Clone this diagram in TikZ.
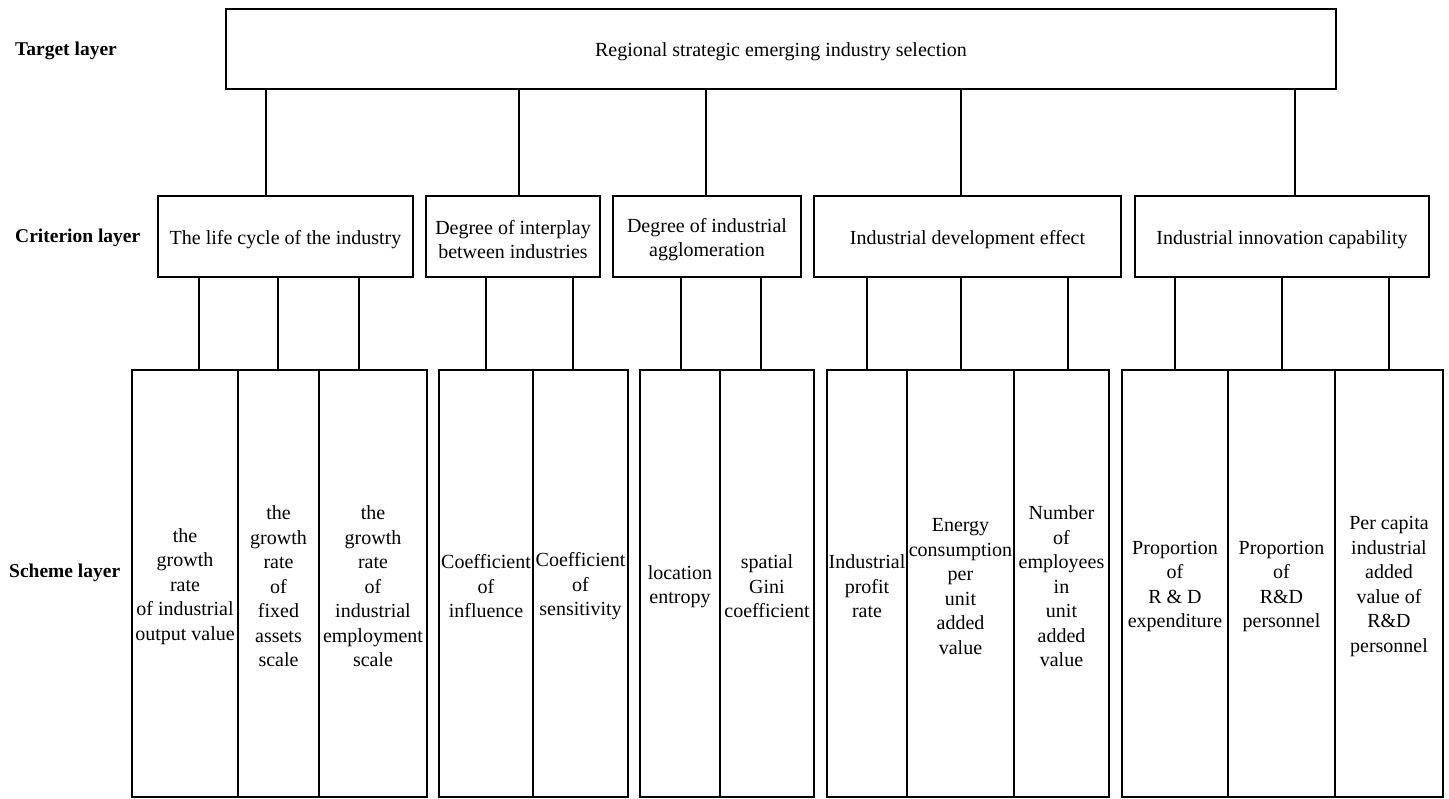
\documentclass[tikz,border=0pt]{standalone}
\usepackage{fontspec}
\setmainfont{Liberation Serif}
\begin{document}
\begin{tikzpicture}[x=1pt,y=-1pt,
  box/.style={draw=black,line width=2.6pt,inner sep=0pt},
  boxtext/.style={inner sep=0pt,align=center,yshift=-3pt,
    font=\fontsize{20}{24.5}\selectfont},
  conn/.style={draw=black,line width=2.4pt},
  layerlbl/.style={anchor=west,inner sep=0pt,font=\fontsize{19.5}{23}\selectfont\bfseries}]
\useasboundingbox (0,0) rectangle (1449,799);
\newcommand{\bx}[6]{\node[box,minimum width={(#4-#2)*1pt},minimum height={(#5-#3)*1pt},
  label={[boxtext]center:{#6}}] (#1) at ({(#2+#4)/2},{(#3+#5)/2}) {};}
% layer labels
\node[layerlbl] (lt) at (15,51) {Target layer};
\node[layerlbl] (lc) at (15,238) {Criterion layer};
\node[layerlbl] (ls) at (9,573) {Scheme layer};
% target
\bx{top}{226}{9}{1336}{89}{Regional strategic emerging industry selection}
% criteria
\bx{c1}{158}{196}{413}{277}{The life cycle of the industry}
\bx{c2}{426}{196}{600}{277}{Degree of interplay\\between industries}
\bx{c3}{613}{196}{801}{277}{Degree of industrial\\agglomeration}
\bx{c4}{814}{196}{1121}{277}{Industrial development effect}
\bx{c5}{1135}{196}{1429}{277}{Industrial innovation capability}
% schemes
\bx{s1}{132}{370}{238}{797}{the\\growth\\rate\\of industrial\\output value}
\bx{s2}{238}{370}{319}{797}{the\\growth\\rate\\of\\fixed\\assets\\scale}
\bx{s3}{319}{370}{427}{797}{the\\growth\\rate\\of\\industrial\\employment\\scale}
\bx{s4}{439}{370}{533}{797}{Coefficient\\of\\influence}
\bx{s5}{533}{370}{628}{797}{Coefficient\\of\\sensitivity}
\bx{s6}{640}{370}{720}{797}{location\\entropy}
\bx{s7}{720}{370}{814}{797}{spatial\\Gini\\coefficient}
\bx{s8}{827}{370}{907}{797}{Industrial\\profit\\rate}
\bx{s9}{907}{370}{1014}{797}{Energy\\consumption\\per\\unit\\added\\value}
\bx{s10}{1014}{370}{1109}{797}{Number\\of\\employees\\in\\unit\\added\\value}
\bx{s11}{1122}{370}{1228}{797}{Proportion\\of\\R \& D\\expenditure}
\bx{s12}{1228}{370}{1335}{797}{Proportion\\of\\R\&D\\personnel}
\bx{s13}{1335}{370}{1443}{797}{Per capita\\industrial\\added\\value of\\R\&D\\personnel}
% connectors target -> criteria
\draw[conn] (top.south -| 266,0) -- (c1.north -| 266,0);
\draw[conn] (top.south -| 519,0) -- (c2.north -| 519,0);
\draw[conn] (top.south -| 706,0) -- (c3.north -| 706,0);
\draw[conn] (top.south -| 961,0) -- (c4.north -| 961,0);
\draw[conn] (top.south -| 1295,0) -- (c5.north -| 1295,0);
% connectors criteria -> schemes
\draw[conn] (c1.south -| 199,0) -- (s1.north -| 199,0);
\draw[conn] (c1.south -| 278,0) -- (s2.north -| 278,0);
\draw[conn] (c1.south -| 359,0) -- (s3.north -| 359,0);
\draw[conn] (c2.south -| 486,0) -- (s4.north -| 486,0);
\draw[conn] (c2.south -| 573,0) -- (s5.north -| 573,0);
\draw[conn] (c3.south -| 681,0) -- (s6.north -| 681,0);
\draw[conn] (c3.south -| 761,0) -- (s7.north -| 761,0);
\draw[conn] (c4.south -| 867,0) -- (s8.north -| 867,0);
\draw[conn] (c4.south -| 961,0) -- (s9.north -| 961,0);
\draw[conn] (c4.south -| 1068,0) -- (s10.north -| 1068,0);
\draw[conn] (c5.south -| 1175,0) -- (s11.north -| 1175,0);
\draw[conn] (c5.south -| 1282,0) -- (s12.north -| 1282,0);
\draw[conn] (c5.south -| 1389,0) -- (s13.north -| 1389,0);
\end{tikzpicture}
\end{document}
